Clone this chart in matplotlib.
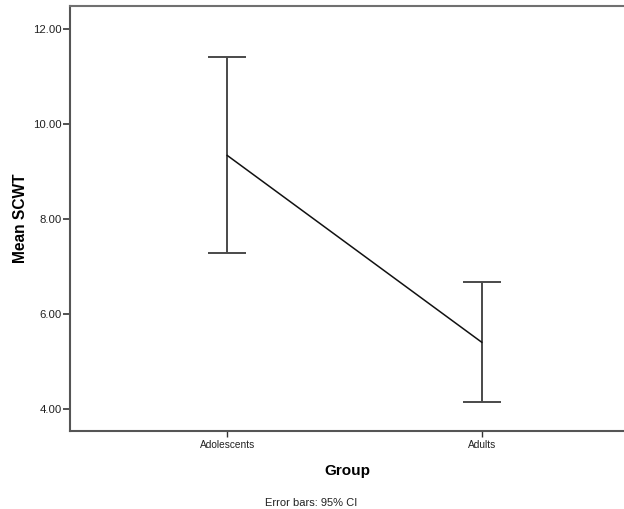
import matplotlib
matplotlib.use("Agg")
import matplotlib.pyplot as plt

# Group means of SCWT with 95% confidence intervals
groups = ["Adolescents", "Adults"]
means = [9.34, 5.41]
ci_lower = [7.28, 4.15]
ci_upper = [11.41, 6.67]
y_ticks = [4.0, 6.0, 8.0, 10.0, 12.0]

plt.rcParams["font.family"] = ["Liberation Sans", "DejaVu Sans"]

W, H = 624, 509
fig = plt.figure(figsize=(W / 100, H / 100), dpi=100)
ax = fig.add_axes([70 / W, (H - 430.7) / H, 1 - 70 / W, (430.7 - 5.7) / H])

x = list(range(len(groups)))
err_lo = [m - lo for m, lo in zip(means, ci_lower)]
err_hi = [hi - m for m, hi in zip(means, ci_upper)]

ax.errorbar(x, means, yerr=[err_lo, err_hi], fmt="none", ecolor="#4a4a4a",
            elinewidth=1.4, capsize=14, capthick=1.4, zorder=2)
ax.plot(x, means, color="#111111", linewidth=1.1, zorder=3)

ax.set_xlim(-0.618, 1.559)
ax.set_ylim(3.55, 12.49)
ax.set_xticks(x)
ax.set_xticklabels(groups, fontsize=7.3)
ax.set_yticks(y_ticks)
ax.set_yticklabels([f"{v:.2f}" for v in y_ticks], fontsize=8.2)

for side in ("left", "bottom", "top"):
    ax.spines[side].set_color("#555555")
    ax.spines[side].set_linewidth(1.5)
ax.spines["top"].set_color("#707070")
ax.spines["right"].set_visible(False)

ax.tick_params(axis="y", length=5, width=1.2, color="#333333", pad=1, labelcolor="#222222")
ax.tick_params(axis="x", length=4, width=1.0, color="#333333", pad=3, labelcolor="#222222")

ax.set_xlabel("Group", fontsize=11, fontweight="bold", labelpad=10)
ax.set_ylabel("Mean SCWT", fontsize=11.2, fontweight="bold", labelpad=3.5)

fig.text(311 / W, 1 - 503 / H, "Error bars: 95% CI", fontsize=8, ha="center",
         va="center", color="#222222")

fig.savefig("out.png", dpi=100, facecolor="white")
